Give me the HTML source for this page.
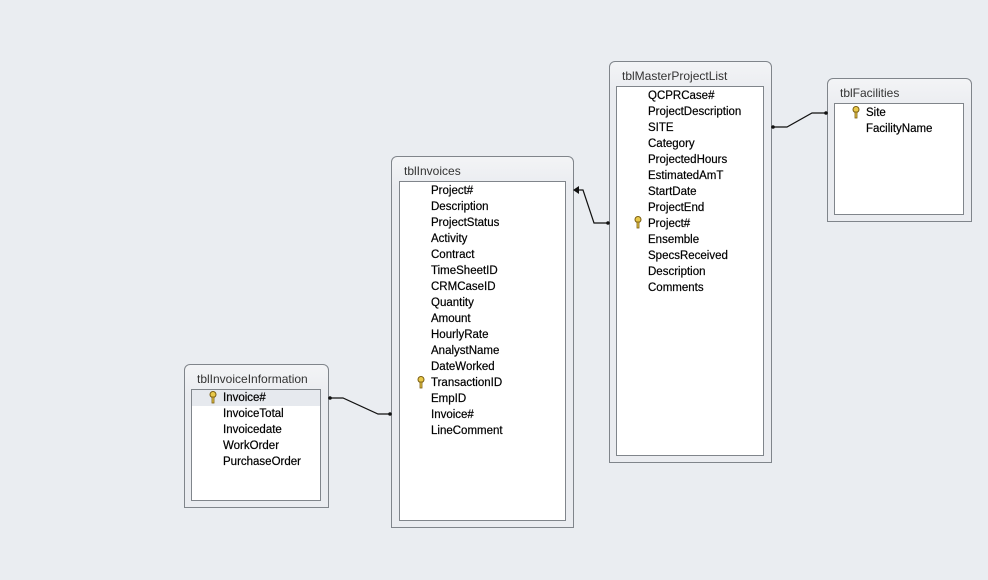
<!DOCTYPE html>
<html><head><style>
body{margin:0;width:988px;height:580px;background:#eaedf1;position:relative;overflow:hidden;font-family:"Liberation Sans",sans-serif;font-size:11.5px;color:#000}
.t{position:absolute;border:1px solid #80858b;border-radius:6px 6px 0 0;background:linear-gradient(#f3f4f6,#eaecf0 30px,#eaecf0)}
.t .h{position:absolute;left:12px;top:7px;color:#333;font-size:12px}
.t .l{position:absolute;background:#fff;border:1px solid #80858b}
.r{position:absolute;height:16px;line-height:16px;white-space:nowrap;-webkit-text-stroke:0.2px #000}
.k{position:absolute;width:8px;height:12px}
.sel{position:absolute;left:0;right:0;height:16px;background:#e6e9ee}
</style></head><body>
<svg width="988" height="580" style="position:absolute;left:0;top:0">
<g stroke="#111" stroke-width="1.2" fill="none">
<polyline points="329,398 343,398 378,414 391,414"/>
<polyline points="575,190 583,190 594,223 609,223"/>
<polyline points="772,127 787,127 812,113 827,113"/>
</g>
<g fill="#111">
<circle cx="330" cy="398" r="1.8"/><circle cx="390" cy="414" r="1.8"/>
<polygon points="573,190 579,186 579,194"/><circle cx="608" cy="223" r="1.8"/>
<circle cx="773" cy="127" r="1.8"/><circle cx="826" cy="113" r="1.8"/>
</g>
<defs><g id="key"><circle cx="4" cy="3.5" r="3" fill="#e8c84a" stroke="#7a5d10" stroke-width="1"/><rect x="3" y="6" width="2" height="6" fill="#e8c84a" stroke="#7a5d10" stroke-width="0.8"/></g></defs>
<use href="#key" x="209" y="391"/>
<use href="#key" x="417" y="376"/>
<use href="#key" x="634" y="216"/>
<use href="#key" x="852" y="106"/>
</svg>

<div class="t" style="left:184px;top:364px;width:143px;height:142px;z-index:-1">
<div class="h">tblInvoiceInformation</div>
<div class="l" style="left:6px;top:24px;width:128px;height:110px">
<div class="sel" style="top:0"></div>
<div class="r" style="left:31px;top:0">Invoice#</div>
<div class="r" style="left:31px;top:16px">InvoiceTotal</div>
<div class="r" style="left:31px;top:32px">Invoicedate</div>
<div class="r" style="left:31px;top:48px">WorkOrder</div>
<div class="r" style="left:31px;top:64px">PurchaseOrder</div>
</div></div>

<div class="t" style="left:391px;top:156px;width:181px;height:370px;z-index:-1">
<div class="h">tblInvoices</div>
<div class="l" style="left:7px;top:24px;width:165px;height:338px">
<div class="r" style="left:31px;top:1px">Project#</div>
<div class="r" style="left:31px;top:17px">Description</div>
<div class="r" style="left:31px;top:33px">ProjectStatus</div>
<div class="r" style="left:31px;top:49px">Activity</div>
<div class="r" style="left:31px;top:65px">Contract</div>
<div class="r" style="left:31px;top:81px">TimeSheetID</div>
<div class="r" style="left:31px;top:97px">CRMCaseID</div>
<div class="r" style="left:31px;top:113px">Quantity</div>
<div class="r" style="left:31px;top:129px">Amount</div>
<div class="r" style="left:31px;top:145px">HourlyRate</div>
<div class="r" style="left:31px;top:161px">AnalystName</div>
<div class="r" style="left:31px;top:177px">DateWorked</div>
<div class="r" style="left:31px;top:193px">TransactionID</div>
<div class="r" style="left:31px;top:209px">EmpID</div>
<div class="r" style="left:31px;top:225px">Invoice#</div>
<div class="r" style="left:31px;top:241px">LineComment</div>
</div></div>

<div class="t" style="left:609px;top:61px;width:161px;height:400px;z-index:-1">
<div class="h">tblMasterProjectList</div>
<div class="l" style="left:6px;top:24px;width:146px;height:368px">
<div class="r" style="left:31px;top:1px">QCPRCase#</div>
<div class="r" style="left:31px;top:17px">ProjectDescription</div>
<div class="r" style="left:31px;top:33px">SITE</div>
<div class="r" style="left:31px;top:49px">Category</div>
<div class="r" style="left:31px;top:65px">ProjectedHours</div>
<div class="r" style="left:31px;top:81px">EstimatedAmT</div>
<div class="r" style="left:31px;top:97px">StartDate</div>
<div class="r" style="left:31px;top:113px">ProjectEnd</div>
<div class="r" style="left:31px;top:129px">Project#</div>
<div class="r" style="left:31px;top:145px">Ensemble</div>
<div class="r" style="left:31px;top:161px">SpecsReceived</div>
<div class="r" style="left:31px;top:177px">Description</div>
<div class="r" style="left:31px;top:193px">Comments</div>
</div></div>

<div class="t" style="left:827px;top:78px;width:143px;height:142px;z-index:-1">
<div class="h">tblFacilities</div>
<div class="l" style="left:6px;top:24px;width:128px;height:110px">
<div class="r" style="left:31px;top:1px">Site</div>
<div class="r" style="left:31px;top:17px">FacilityName</div>
</div></div>
</body></html>
